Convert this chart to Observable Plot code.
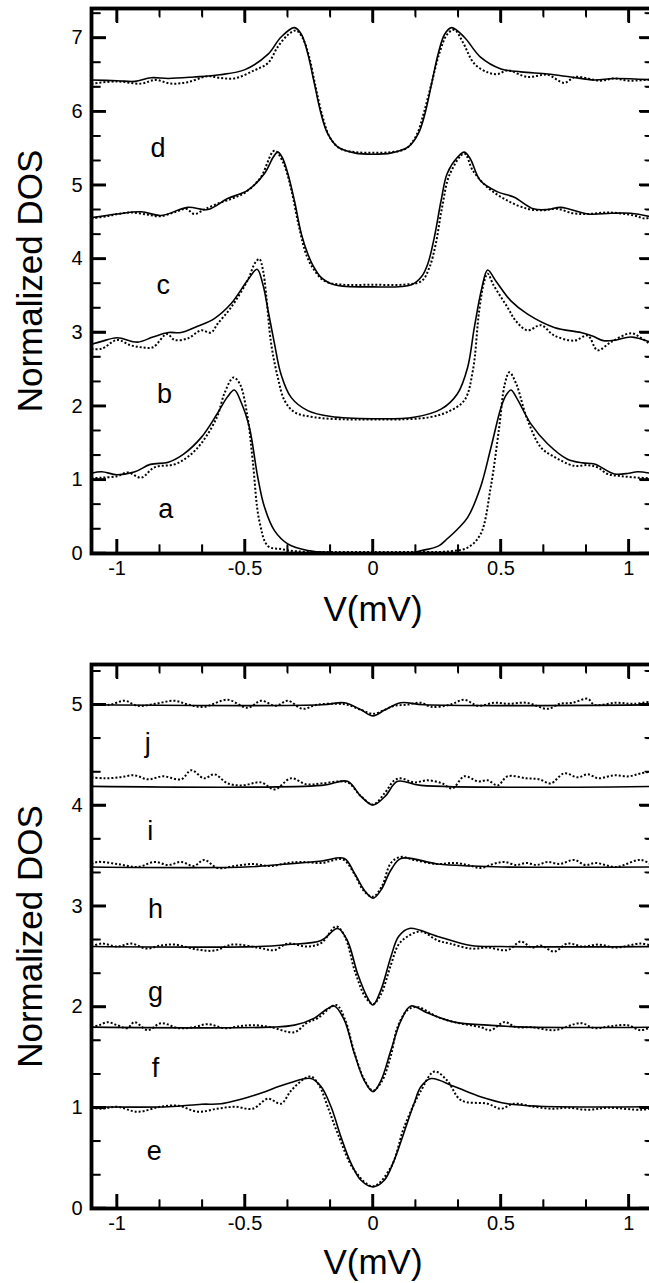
<!DOCTYPE html>
<html>
<head>
<meta charset="utf-8">
<script src="https://cdn.jsdelivr.net/npm/d3@7"></script>
<script src="https://cdn.jsdelivr.net/npm/@observablehq/plot@0.6"></script>
<style>
  html, body { margin: 0; padding: 0; background: #fff; overflow: hidden; }
  #chart svg { display: block; overflow: hidden; }
</style>
</head>
<body>
<div id="chart"></div>
<script>
window.addEventListener("error", e => console.error(e.message));
// ---------- tick values ----------
const xMajorTicks = [-1, -0.5, 0, 0.5, 1];
const xMinorTicks = [-0.8333, -0.6667, -0.3333, -0.1667, 0.1667, 0.3333, 0.6667, 0.8333];
const yMajorTop = [0, 1, 2, 3, 4, 5, 6, 7];
const yMinorTop = [0.333, 0.667, 1.333, 1.667, 2.333, 2.667, 3.333, 3.667, 4.333, 4.667, 5.333, 5.667, 6.333, 6.667, 7.333];
const yMajorBottom = [0, 1, 2, 3, 4, 5];
const yMinorBottom = [0.333, 0.667, 1.333, 1.667, 2.333, 2.667, 3.333, 3.667, 4.333, 4.667, 5.333];

// ---------- top panel: curves a-d (solid = fit, dotted = data) ----------
const aFit = [[-1.1,1.09],[-1.06,1.11],[-1.0,1.07],[-0.93,1.11],[-0.87,1.21],[-0.8,1.24],[-0.74,1.35],[-0.67,1.58],[-0.61,1.89],[-0.57,2.12],[-0.542,2.22],[-0.515,2.05],[-0.483,1.71],[-0.45,1.03],[-0.424,0.63],[-0.385,0.31],[-0.333,0.13],[-0.255,0.04],[-0.15,0.01],[0,0.0],[0.15,0.01],[0.19,0.04],[0.255,0.1],[0.29,0.2],[0.33,0.33],[0.37,0.49],[0.42,0.9],[0.461,1.44],[0.5,1.98],[0.52,2.15],[0.539,2.22],[0.56,2.12],[0.617,1.76],[0.682,1.49],[0.76,1.28],[0.82,1.23],[0.865,1.215],[0.943,1.08],[1.0,1.09],[1.034,1.11],[1.1,1.08]];
const aData = [[-1.1,1.02],[-1.06,1.03],[-1.0,1.05],[-0.958,1.1],[-0.906,1.03],[-0.854,1.17],[-0.776,1.21],[-0.724,1.31],[-0.67,1.5],[-0.61,1.85],[-0.58,2.18],[-0.545,2.39],[-0.52,2.3],[-0.49,1.85],[-0.47,1.26],[-0.444,0.44],[-0.41,0.1],[-0.36,0.06],[-0.3,0.03],[-0.2,0.02],[0,0.02],[0.2,0.02],[0.3,0.03],[0.37,0.08],[0.42,0.26],[0.46,0.9],[0.493,1.71],[0.515,2.3],[0.533,2.46],[0.56,2.3],[0.6,1.85],[0.656,1.44],[0.7,1.33],[0.786,1.19],[0.84,1.2],[0.877,1.17],[0.917,1.08],[0.97,1.05],[1.034,1.03],[1.1,1.02]];
const bFit = [[-1.1,2.84],[-1.06,2.88],[-1.0,2.93],[-0.92,2.87],[-0.86,2.94],[-0.8,3.0],[-0.75,3.0],[-0.69,3.08],[-0.62,3.19],[-0.555,3.39],[-0.49,3.71],[-0.453,3.86],[-0.43,3.65],[-0.41,3.3],[-0.385,2.85],[-0.36,2.44],[-0.32,2.12],[-0.255,1.94],[-0.164,1.86],[0,1.83],[0.16,1.85],[0.266,1.96],[0.33,2.17],[0.37,2.53],[0.396,3.07],[0.425,3.6],[0.448,3.85],[0.48,3.7],[0.539,3.43],[0.604,3.25],[0.708,3.07],[0.8125,3.0],[0.86,2.95],[0.9,2.89],[0.95,2.9],[1.008,2.94],[1.1,2.85]];
const bData = [[-1.1,2.78],[-1.06,2.78],[-1.0,2.9],[-0.95,2.83],[-0.906,2.8],[-0.86,2.8],[-0.805,2.98],[-0.776,2.9],[-0.724,2.92],[-0.672,3.03],[-0.633,3.0],[-0.607,3.12],[-0.555,3.34],[-0.49,3.71],[-0.46,3.95],[-0.444,4.0],[-0.43,3.85],[-0.418,3.53],[-0.398,2.85],[-0.372,2.39],[-0.346,2.08],[-0.307,1.92],[-0.229,1.85],[-0.1,1.82],[0,1.82],[0.1,1.82],[0.22,1.85],[0.29,1.92],[0.357,2.08],[0.39,2.48],[0.415,3.3],[0.435,3.7],[0.448,3.8],[0.47,3.65],[0.526,3.34],[0.56,3.15],[0.604,3.03],[0.656,3.1],[0.708,2.96],[0.786,2.89],[0.839,2.96],[0.877,2.76],[0.93,2.87],[1.008,2.99],[1.05,2.92],[1.1,2.8]];
const cFit = [[-1.1,4.56],[-1.0,4.61],[-0.906,4.64],[-0.828,4.59],[-0.724,4.7],[-0.646,4.67],[-0.568,4.82],[-0.49,4.93],[-0.424,5.16],[-0.39,5.38],[-0.372,5.45],[-0.355,5.38],[-0.333,5.16],[-0.307,4.79],[-0.28,4.34],[-0.255,4.07],[-0.236,3.92],[-0.203,3.75],[-0.151,3.65],[0,3.62],[0.151,3.65],[0.19,3.76],[0.214,3.93],[0.24,4.3],[0.266,4.79],[0.29,5.16],[0.33,5.38],[0.357,5.45],[0.38,5.36],[0.42,5.06],[0.487,4.91],[0.55,4.84],[0.627,4.68],[0.682,4.67],[0.734,4.7],[0.839,4.61],[0.93,4.62],[1.008,4.62],[1.1,4.56]];
const cData = [[-1.1,4.55],[-1.04,4.58],[-0.98,4.62],[-0.94,4.63],[-0.88,4.6],[-0.83,4.58],[-0.77,4.64],[-0.73,4.68],[-0.698,4.61],[-0.66,4.67],[-0.607,4.75],[-0.55,4.82],[-0.5,4.9],[-0.44,5.1],[-0.385,5.47],[-0.35,5.3],[-0.32,4.95],[-0.29,4.45],[-0.26,4.05],[-0.23,3.85],[-0.19,3.7],[-0.12,3.65],[0,3.65],[0.12,3.65],[0.19,3.7],[0.22,3.88],[0.245,4.2],[0.27,4.7],[0.3,5.15],[0.357,5.43],[0.39,5.2],[0.448,4.97],[0.526,4.79],[0.604,4.68],[0.66,4.66],[0.72,4.68],[0.78,4.62],[0.839,4.61],[0.92,4.63],[1.02,4.59],[1.06,4.55],[1.1,4.57]];
const dFit = [[-1.1,6.43],[-1.0,6.42],[-0.93,6.41],[-0.867,6.46],[-0.8,6.45],[-0.7,6.47],[-0.6,6.5],[-0.5,6.57],[-0.41,6.78],[-0.36,7.01],[-0.307,7.14],[-0.28,7.05],[-0.255,6.79],[-0.229,6.38],[-0.203,5.97],[-0.177,5.7],[-0.138,5.52],[-0.073,5.44],[0,5.42],[0.073,5.44],[0.138,5.52],[0.177,5.7],[0.203,5.97],[0.229,6.38],[0.255,6.79],[0.28,7.05],[0.307,7.14],[0.357,7.01],[0.42,6.74],[0.5,6.58],[0.578,6.54],[0.682,6.51],[0.773,6.47],[0.865,6.43],[0.943,6.45],[1.1,6.43]];
const dData = [[-1.1,6.38],[-1.0,6.41],[-0.906,6.38],[-0.85,6.43],[-0.79,6.38],[-0.724,6.4],[-0.646,6.48],[-0.6,6.46],[-0.542,6.45],[-0.464,6.56],[-0.41,6.66],[-0.372,6.88],[-0.33,7.05],[-0.3,7.1],[-0.275,7.0],[-0.25,6.75],[-0.225,6.35],[-0.2,5.97],[-0.17,5.66],[-0.13,5.5],[-0.07,5.45],[0,5.44],[0.07,5.45],[0.13,5.5],[0.17,5.68],[0.2,6.0],[0.23,6.4],[0.26,6.8],[0.29,7.05],[0.318,7.11],[0.35,6.95],[0.396,6.65],[0.45,6.53],[0.487,6.51],[0.526,6.56],[0.604,6.47],[0.682,6.5],[0.747,6.39],[0.79,6.47],[0.89,6.42],[0.94,6.45],[1.0,6.42],[1.1,6.44]];

// ---------- bottom panel: curves e-j ----------
const eFit = [[-1.1,1.01],[-0.8,1.01],[-0.67,1.035],[-0.594,1.04],[-0.463,1.125],[-0.333,1.24],[-0.242,1.29],[-0.203,1.21],[-0.164,1.01],[-0.125,0.71],[-0.086,0.45],[-0.047,0.28],[0,0.215],[0.044,0.28],[0.083,0.48],[0.12,0.745],[0.16,1.04],[0.1875,1.21],[0.227,1.29],[0.318,1.21],[0.42,1.11],[0.526,1.04],[0.65,1.015],[1.1,1.01]];
const eData = [[-1.1,1.0],[-1.06,0.99],[-1.0,1.01],[-0.92,0.96],[-0.83,1.01],[-0.76,1.02],[-0.685,0.96],[-0.61,0.99],[-0.54,1.01],[-0.47,0.99],[-0.41,1.09],[-0.36,1.04],[-0.32,1.17],[-0.268,1.29],[-0.242,1.31],[-0.21,1.22],[-0.177,1.01],[-0.138,0.745],[-0.073,0.38],[0,0.22],[0.07,0.41],[0.122,0.81],[0.1875,1.17],[0.24,1.36],[0.29,1.27],[0.344,1.075],[0.448,1.04],[0.5,0.99],[0.55,1.04],[0.63,1.01],[0.7,0.99],[0.76,1.0],[0.84,0.98],[0.92,1.0],[1.05,0.98],[1.1,1.0]];
const fFit = [[-1.1,1.8],[-0.4,1.8],[-0.307,1.82],[-0.229,1.89],[-0.18,1.98],[-0.151,2.01],[-0.112,1.87],[-0.073,1.54],[-0.034,1.27],[0,1.16],[0.031,1.27],[0.07,1.57],[0.11,1.87],[0.148,2.01],[0.214,1.94],[0.318,1.85],[0.448,1.82],[0.6,1.8],[1.1,1.8]];
const fData = [[-1.1,1.8],[-1.07,1.82],[-1.036,1.85],[-1.0,1.82],[-0.96,1.79],[-0.932,1.85],[-0.88,1.77],[-0.828,1.84],[-0.76,1.79],[-0.7,1.8],[-0.646,1.83],[-0.58,1.79],[-0.52,1.81],[-0.47,1.82],[-0.4,1.8],[-0.307,1.75],[-0.26,1.84],[-0.216,1.89],[-0.144,2.02],[-0.11,1.88],[-0.073,1.55],[-0.034,1.28],[0,1.17],[0.034,1.26],[0.07,1.52],[0.096,1.8],[0.135,1.97],[0.174,2.0],[0.253,1.9],[0.318,1.85],[0.42,1.8],[0.46,1.77],[0.513,1.85],[0.56,1.8],[0.62,1.8],[0.708,1.77],[0.8125,1.84],[0.865,1.79],[0.93,1.81],[0.995,1.82],[1.047,1.77],[1.1,1.82]];
const gFit = [[-1.1,2.6],[-0.45,2.6],[-0.333,2.62],[-0.203,2.66],[-0.138,2.78],[-0.1,2.66],[-0.06,2.33],[-0.021,2.09],[0,2.02],[0.031,2.17],[0.07,2.5],[0.1,2.7],[0.142,2.78],[0.253,2.7],[0.383,2.61],[0.5,2.6],[1.1,2.6]];
const gData = [[-1.1,2.6],[-1.06,2.63],[-1.0,2.6],[-0.945,2.63],[-0.885,2.58],[-0.83,2.61],[-0.776,2.62],[-0.685,2.57],[-0.62,2.56],[-0.55,2.62],[-0.45,2.59],[-0.385,2.565],[-0.333,2.63],[-0.255,2.6],[-0.2,2.64],[-0.144,2.8],[-0.11,2.7],[-0.07,2.35],[-0.03,2.1],[0,2.03],[0.03,2.12],[0.07,2.42],[0.1,2.62],[0.135,2.7],[0.1875,2.75],[0.253,2.66],[0.3,2.63],[0.383,2.58],[0.45,2.59],[0.526,2.565],[0.578,2.65],[0.62,2.59],[0.656,2.61],[0.708,2.55],[0.76,2.63],[0.82,2.6],[0.88,2.62],[0.95,2.59],[1.047,2.63],[1.1,2.6]];
const hFit = [[-1.1,3.39],[-0.5,3.39],[-0.333,3.42],[-0.2,3.45],[-0.112,3.475],[-0.073,3.33],[-0.034,3.16],[0,3.08],[0.031,3.16],[0.07,3.36],[0.109,3.475],[0.253,3.42],[0.383,3.4],[0.5,3.39],[1.1,3.39]];
const hData = [[-1.1,3.42],[-1.076,3.44],[-1.0,3.42],[-0.92,3.39],[-0.854,3.44],[-0.8,3.41],[-0.75,3.44],[-0.7,3.4],[-0.66,3.46],[-0.607,3.38],[-0.54,3.4],[-0.47,3.42],[-0.4,3.4],[-0.333,3.43],[-0.28,3.44],[-0.2,3.43],[-0.118,3.465],[-0.075,3.33],[-0.035,3.15],[0,3.095],[0.035,3.2],[0.07,3.43],[0.109,3.49],[0.16,3.46],[0.25,3.42],[0.318,3.43],[0.37,3.41],[0.42,3.38],[0.47,3.42],[0.513,3.44],[0.56,3.41],[0.6,3.43],[0.64,3.41],[0.682,3.44],[0.73,3.42],[0.786,3.46],[0.83,3.41],[0.87,3.43],[0.95,3.39],[1.047,3.46],[1.1,3.39]];
const iFit = [[-1.1,4.19],[-0.2,4.2],[-0.1,4.24],[-0.047,4.09],[0,4.005],[0.047,4.09],[0.096,4.24],[0.1875,4.2],[1.1,4.19]];
const iData = [[-1.1,4.28],[-1.05,4.27],[-0.99,4.28],[-0.932,4.3],[-0.88,4.26],[-0.82,4.29],[-0.75,4.26],[-0.71,4.35],[-0.66,4.27],[-0.62,4.31],[-0.568,4.22],[-0.51,4.2],[-0.4375,4.23],[-0.385,4.16],[-0.32,4.27],[-0.26,4.21],[-0.2,4.22],[-0.1,4.23],[-0.05,4.1],[0,4.01],[0.045,4.12],[0.083,4.25],[0.109,4.27],[0.16,4.23],[0.214,4.25],[0.27,4.22],[0.31,4.17],[0.357,4.29],[0.41,4.24],[0.448,4.25],[0.487,4.2],[0.526,4.29],[0.6,4.27],[0.65,4.26],[0.695,4.22],[0.747,4.32],[0.8,4.28],[0.84,4.31],[0.88,4.27],[0.94,4.3],[1.0,4.29],[1.047,4.32],[1.1,4.34]];
const jFit = [[-1.1,5.0],[-0.2,5.0],[-0.112,5.02],[-0.047,4.95],[0,4.89],[0.047,4.95],[0.109,5.02],[0.2,5.0],[1.1,5.0]];
const jData = [[-1.1,5.01],[-1.03,5.0],[-0.97,5.04],[-0.92,4.99],[-0.85,5.01],[-0.776,5.04],[-0.72,5.0],[-0.66,4.98],[-0.568,5.05],[-0.49,4.97],[-0.4375,5.04],[-0.38,4.99],[-0.333,5.04],[-0.275,4.96],[-0.22,5.0],[-0.15,5.01],[-0.1,5.0],[-0.047,4.95],[0,4.91],[0.045,4.95],[0.083,4.99],[0.13,5.0],[0.1875,5.02],[0.227,4.98],[0.3,5.0],[0.357,5.05],[0.41,4.99],[0.474,5.02],[0.53,5.01],[0.6,5.02],[0.682,4.96],[0.73,5.01],[0.78,5.02],[0.839,5.06],[0.865,5.0],[0.95,5.02],[1.02,5.01],[1.1,5.04]];

// ---------- curve letters ----------
const topLetters = ["a", "b", "c", "d"];
const topLetterX = [-0.81, -0.815, -0.82, -0.84];
const topLetterY = [0.485, 2.05, 3.53, 5.38];
const bottomLetters = ["e", "f", "g", "h", "i", "j"];
const bottomLetterX = [-0.855, -0.85, -0.85, -0.85, -0.87, -0.88];
const bottomLetterY = [0.48, 1.31, 2.06, 2.88, 3.66, 4.53];

const xLabel = "V(mV)";
const yLabel = "Normalized DOS";

const FONT = "'Liberation Sans', Arial, Helvetica, sans-serif";
const WIDTH = 649, MARGIN_LEFT = 91, MARGIN_RIGHT = -5;
const noText = () => "";

// inward ticks as Plot axis marks (negative tick size points them into the frame)
function tickAxes(yMajor, yMinor) {
  return [
    Plot.axisX(xMajorTicks, {anchor: "bottom", tickSize: -14, strokeWidth: 2.4, tickFormat: noText, label: null}),
    Plot.axisX(xMinorTicks, {anchor: "bottom", tickSize: -8.5, strokeWidth: 1.5, tickFormat: noText, label: null}),
    Plot.axisX(xMajorTicks, {anchor: "top", tickSize: -14, strokeWidth: 2.4, tickFormat: noText, label: null}),
    Plot.axisX(xMinorTicks, {anchor: "top", tickSize: -8.5, strokeWidth: 1.5, tickFormat: noText, label: null}),
    Plot.axisY(yMajor, {anchor: "left", tickSize: -15, strokeWidth: 2.4, tickFormat: noText, label: null}),
    Plot.axisY(yMinor, {anchor: "left", tickSize: -9.5, strokeWidth: 1.5, tickFormat: noText, label: null}),
    Plot.axisY(yMajor, {anchor: "right", tickSize: -15, strokeWidth: 2.4, tickFormat: noText, label: null}),
    Plot.axisY(yMinor, {anchor: "right", tickSize: -9.5, strokeWidth: 1.5, tickFormat: noText, label: null})
  ];
}

// the same ticks again as plain paths placed with the plot's own scales (backup)
function addInwardTicks(svg, yMajor, yMinor, height, marginTop, marginBottom, id) {
  const sx = svg.scale("x"), sy = svg.scale("y");
  const X = v => sx.apply(v), Y = v => sy.apply(v);
  const top = marginTop, bottom = height - marginBottom;
  const left = MARGIN_LEFT, right = WIDTH - MARGIN_RIGHT;
  const major = d3.path(), minor = d3.path();
  for (const v of xMajorTicks) { const p = X(v); major.moveTo(p, bottom); major.lineTo(p, bottom - 14); major.moveTo(p, top); major.lineTo(p, top + 14); }
  for (const v of xMinorTicks) { const p = X(v); minor.moveTo(p, bottom); minor.lineTo(p, bottom - 8.5); minor.moveTo(p, top); minor.lineTo(p, top + 8.5); }
  for (const v of yMajor) { const p = Y(v); major.moveTo(left, p); major.lineTo(left + 15, p); major.moveTo(right, p); major.lineTo(right - 15, p); }
  for (const v of yMinor) { const p = Y(v); minor.moveTo(left, p); minor.lineTo(left + 9.5, p); minor.moveTo(right, p); minor.lineTo(right - 9.5, p); }
  const ns = "http://www.w3.org/2000/svg";
  const g = document.createElementNS(ns, "g");
  g.setAttribute("id", id);
  for (const [path, w] of [[major, 2.4], [minor, 1.5]]) {
    const el = document.createElementNS(ns, "path");
    el.setAttribute("d", path.toString());
    el.setAttribute("stroke", "#000");
    el.setAttribute("stroke-width", String(w));
    el.setAttribute("fill", "none");
    g.appendChild(el);
  }
  svg.appendChild(g);
}

function buildPanel(curves, letters, letterX, letterY, yDomain, yMajor, yMinor, height, marginTop, marginBottom, xLabelDy, id) {
  const fitRows = [], dataRows = [];
  for (const [name, fit, data] of curves) {
    for (const [x, y] of fit) fitRows.push({id: name, x, y});
    for (const [x, y] of data) dataRows.push({id: name, x, y});
  }
  const letterRows = letters.map((t, i) => ({t, x: letterX[i], y: letterY[i]}));
  const svg = Plot.plot({
    width: WIDTH, height, marginLeft: MARGIN_LEFT, marginRight: MARGIN_RIGHT, marginTop, marginBottom,
    style: {fontFamily: FONT, background: "#fff", color: "#000"},
    x: {domain: [-1.1, 1.1]}, y: {domain: yDomain},
    marks: [
      Plot.line(dataRows, {x: "x", y: "y", z: "id", curve: "catmull-rom", stroke: "#000", strokeWidth: 2, strokeDasharray: "2,2", strokeLinecap: "butt"}),
      Plot.line(fitRows, {x: "x", y: "y", z: "id", curve: "catmull-rom", stroke: "#000", strokeWidth: 1.6}),
      ...tickAxes(yMajor, yMinor),
      Plot.frame({stroke: "#000", strokeWidth: 3.8}),
      Plot.axisX(xMajorTicks, {anchor: "bottom", tickSize: 0, tickPadding: 7, fontSize: 20, label: null, tickFormat: d => String(d)}),
      Plot.axisY(yMajor, {anchor: "left", tickSize: 0, tickPadding: 9, fontSize: 20, label: null, tickFormat: d => String(d)}),
      Plot.text(letterRows, {x: "x", y: "y", text: "t", fontSize: 27, lineAnchor: "bottom", textAnchor: "middle"}),
      Plot.text([xLabel], {frameAnchor: "bottom", text: d => d, dy: xLabelDy, lineAnchor: "bottom", fontSize: 35}),
      Plot.text([yLabel], {frameAnchor: "left", text: d => d, rotate: -90, dx: -50, lineAnchor: "bottom", textAnchor: "middle", fontSize: 35})
    ]
  });
  try { addInwardTicks(svg, yMajor, yMinor, height, marginTop, marginBottom, id); } catch (e) { console.error(e); }
  return svg;
}

const chart = document.getElementById("chart");
chart.append(buildPanel(
  [["a", aFit, aData], ["b", bFit, bData], ["c", cFit, cData], ["d", dFit, dData]],
  topLetters, topLetterX, topLetterY, [0, 7.4], yMajorTop, yMinorTop, 640, 8, 87, 67, "ticks-top"));
chart.append(buildPanel(
  [["e", eFit, eData], ["f", fFit, fData], ["g", gFit, gData], ["h", hFit, hData], ["i", iFit, iData], ["j", jFit, jData]],
  bottomLetters, bottomLetterX, bottomLetterY, [0, 5.4], yMajorBottom, yMinorBottom, 643, 24, 75, 65, "ticks-bottom"));
</script>
</body>
</html>
